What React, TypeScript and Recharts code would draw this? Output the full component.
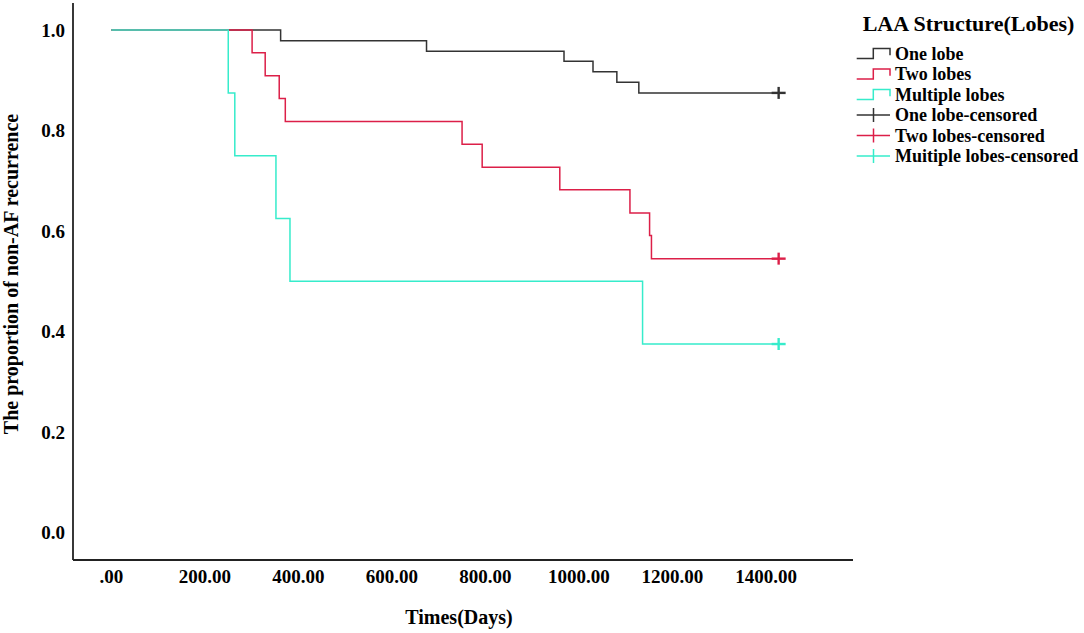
import { ComposedChart, Line, Scatter, XAxis, YAxis } from "recharts";

// Kaplan-Meier steps (days, proportion free of AF)
const oneLobeDays = [0, 362, 674, 968, 1030, 1081, 1128, 1427];
const oneLobeSurv = [1, 0.979, 0.958, 0.938, 0.917, 0.896, 0.875, 0.875];

const twoLobesDays = [0, 301, 329, 359, 372, 750, 793, 959, 1109, 1151, 1155, 1427];
const twoLobesSurv = [1, 0.955, 0.909, 0.864, 0.818, 0.773, 0.727, 0.682, 0.636, 0.591, 0.545, 0.545];

const multiLobesDays = [0, 250, 264, 352, 382, 1136, 1427];
const multiLobesSurv = [1, 0.875, 0.75, 0.625, 0.5, 0.375, 0.375];

const xTicks = [0, 200, 400, 600, 800, 1000, 1200, 1400];
const yTicks = [0, 0.2, 0.4, 0.6, 0.8, 1.0];

const FONT = "'Liberation Serif', 'Times New Roman', serif";

const toPoints = (days: number[], surv: number[]) =>
    days.map((t, i) => ({ t, s: surv[i] }));

const series = [
    { name: "One lobe", color: "#333333", points: toPoints(oneLobeDays, oneLobeSurv) },
    { name: "Two lobes", color: "#dc1f48", points: toPoints(twoLobesDays, twoLobesSurv) },
    { name: "Multiple lobes", color: "#36eccb", points: toPoints(multiLobesDays, multiLobesSurv) },
];

const censoredNames = ["One lobe-censored", "Two lobes-censored", "Muitiple lobes-censored"];

function CensorMark({ cx, cy, color }: { cx?: number; cy?: number; color: string }) {
    if (cx == null || cy == null) return null;
    return (
        <g stroke={color} strokeWidth={2.4}>
            <line x1={cx - 7} y1={cy} x2={cx + 7} y2={cy} />
            <line x1={cx} y1={cy - 6} x2={cx} y2={cy + 6} />
        </g>
    );
}

function LegendBox() {
    const rowY = (i: number) => 53.5 + i * 20.5;
    return (
        <svg
            width={234}
            height={175}
            style={{ position: "absolute", left: 850, top: 0 }}
            fontFamily={FONT}
            fontWeight="bold"
        >
            <text x={12.7} y={23} fontSize={22} dominantBaseline="central" fill="#000">
                LAA Structure(Lobes)
            </text>
            {series.map((s, i) => {
                const y = rowY(i);
                return (
                    <g key={s.name}>
                        <path
                            d={`M6.7,${y + 5} H23.3 V${y - 5} H40 V${y + 1.7}`}
                            fill="none"
                            stroke={s.color}
                            strokeWidth={1.5}
                        />
                        <text x={45} y={y} fontSize={18} dominantBaseline="central" fill="#000">
                            {s.name}
                        </text>
                    </g>
                );
            })}
            {series.map((s, i) => {
                const y = rowY(i + 3);
                return (
                    <g key={censoredNames[i]}>
                        <line x1={6.7} y1={y} x2={40} y2={y} stroke={s.color} strokeWidth={1.5} />
                        <line x1={23.5} y1={y - 7} x2={23.5} y2={y + 7} stroke={s.color} strokeWidth={1.5} />
                        <text x={45} y={y} fontSize={18} dominantBaseline="central" fill="#000">
                            {censoredNames[i]}
                        </text>
                    </g>
                );
            })}
        </svg>
    );
}

export default function App() {
    const tickStyle = { fontFamily: FONT, fontWeight: "bold", fontSize: 19, fill: "#000" };
    return (
        <div style={{ position: "absolute", left: 0, top: 0, width: 1084, height: 633, background: "#fff" }}>
            <ComposedChart
                width={1084}
                height={633}
                margin={{ top: 3, right: 231, bottom: 0, left: 0 }}
            >
                <XAxis
                    type="number"
                    dataKey="t"
                    domain={[-82, 1586]}
                    ticks={xTicks}
                    tickFormatter={(v: number) => (v === 0 ? ".00" : v.toFixed(2))}
                    tick={tickStyle}
                    tickLine={false}
                    tickSize={0}
                    tickMargin={10}
                    height={73}
                    stroke="#222"
                    strokeWidth={1.8}
                    label={() => (
                        <text
                            x={459}
                            y={617}
                            textAnchor="middle"
                            dominantBaseline="central"
                            fontFamily={FONT}
                            fontWeight="bold"
                            fontSize={20}
                            fill="#000"
                        >
                            Times(Days)
                        </text>
                    )}
                />
                <YAxis
                    type="number"
                    dataKey="s"
                    domain={[-0.055, 1.054]}
                    ticks={yTicks}
                    tickFormatter={(v: number) => v.toFixed(1)}
                    tick={tickStyle}
                    tickLine={false}
                    tickSize={0}
                    tickMargin={8}
                    width={73}
                    stroke="#222"
                    strokeWidth={1.8}
                    label={() => (
                        <text
                            x={11}
                            y={274}
                            transform="rotate(-90 11 274)"
                            textAnchor="middle"
                            dominantBaseline="central"
                            fontFamily={FONT}
                            fontWeight="bold"
                            fontSize={20}
                            fill="#000"
                        >
                            The proportion of non-AF recurrence
                        </text>
                    )}
                />
                {series.map((s) => (
                    <Line
                        key={s.name}
                        data={s.points}
                        dataKey="s"
                        name={s.name}
                        type="stepAfter"
                        stroke={s.color}
                        strokeWidth={1.5}
                        dot={false}
                        activeDot={false}
                        isAnimationActive={false}
                    />
                ))}
                {series.map((s, i) => (
                    <Scatter
                        key={censoredNames[i]}
                        name={censoredNames[i]}
                        data={[s.points[s.points.length - 1]]}
                        dataKey="s"
                        isAnimationActive={false}
                        shape={(p: { cx?: number; cy?: number }) => (
                            <CensorMark cx={p.cx} cy={p.cy} color={s.color} />
                        )}
                    />
                ))}
            </ComposedChart>
            <LegendBox />
        </div>
    );
}
